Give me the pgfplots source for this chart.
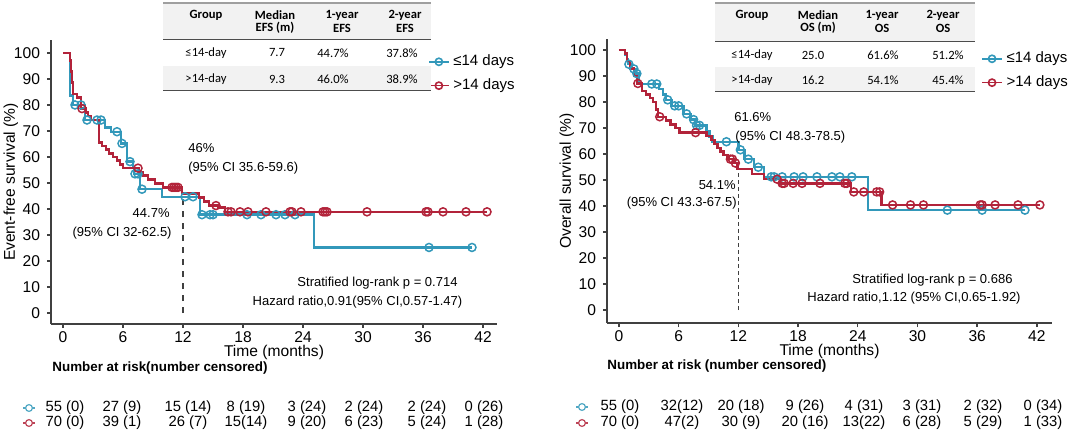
\documentclass[border=0pt]{standalone}
\usepackage{fontspec}
\setmainfont{Liberation Sans}
\newfontfamily\tabfont{Carlito}
\usepackage{pgfplots}
\pgfplotsset{compat=1.18}

\definecolor{kmblue}{HTML}{3298BA}
\definecolor{kmred}{HTML}{B2233A}
\definecolor{axgray}{HTML}{404040}
\definecolor{tabgray}{HTML}{F2F2F2}

\pgfplotsset{
  km/.style={
    scale only axis,
    axis lines*=left,
    axis line style={axgray, line width=0.8pt},
    tick style={axgray, line width=0.7pt},
    tick align=outside,
    major tick length=2pt,
    xtick={0,6,...,42},
    ytick={0,10,...,100},
    tick label style={font=\fontsize{7.8}{9}\selectfont},
    xticklabel style={inner sep=1.5pt},
    every axis x label/.style={at={(axis description cs:0.5,-0.1)}, anchor=center,
      font=\fontsize{7.8}{9}\selectfont},
    every axis y label/.style={at={(axis description cs:-0.09,0.5)}, rotate=90, anchor=center,
      font=\fontsize{7.8}{9}\selectfont},
    /pgf/number format/assume math mode=true,
    clip=false,
    xlabel={Time (months)},
    legend style={draw=none, fill=none, font=\fontsize{7.5}{9}\selectfont,
      inner sep=0pt, row sep=1pt, cells={anchor=west}},
    legend image code/.code={\draw[mark repeat=2,mark phase=2]
      plot coordinates {(0cm,0cm) (0.17cm,0cm) (0.34cm,0cm)};},
  },
  surv/.style={const plot, no marks, line width=1.2pt},
  cens/.style={only marks, mark=o, mark size=2pt, line width=0.75pt},
}

\begin{document}
\begin{tikzpicture}

% ---------------- EFS ----------------
\begin{axis}[km,
    at={(25.5pt,-162pt)}, anchor=south west,
    width=223pt, height=142pt,
    xmin=-1.2, xmax=43.4, ymin=-4.23, ymax=104.97,
    ylabel={Event-free survival (\%)},
    legend style={at={(axis cs:36.5,92)}, anchor=west},
]
\addlegendimage{kmblue, line width=0.8pt, mark=o, mark size=1.8pt}
\addlegendentry{≤14 days}
\addlegendimage{kmred, line width=0.8pt, mark=o, mark size=1.8pt}
\addlegendentry{>14 days}

\draw[axgray, dashed, line width=0.6pt] (axis cs:12,0) -- (axis cs:12,44.7);

\addplot[surv, kmblue, forget plot] coordinates {
  (0,100) (0.7,83.6) (1.0,80.0) (2.2,74.2) (4.2,71.3) (4.8,69.7) (5.8,65.2)
  (6.4,58.2) (7.0,55.8) (7.1,53.5) (7.7,47.6) (9.9,44.7) (13.7,37.8)
  (25.1,25.2) (40.9,25.2)
};
\addplot[cens, kmblue, forget plot] coordinates {
  (1.2,80.0) (1.8,80.0) (2.4,74.2) (3.4,74.2) (3.8,74.2) (5.4,69.7) (5.9,65.2)
  (6.7,58.2) (7.2,53.5) (7.5,53.5) (7.9,47.6) (12.2,44.7) (13.0,44.7)
  (13.9,37.8) (14.7,37.8) (15.0,37.8) (18.4,37.8) (19.8,37.8) (21.3,37.8)
  (22.2,37.8) (23.2,37.8) (36.6,25.2) (40.9,25.2)
};
\addplot[surv, kmred, forget plot] coordinates {
  (0,100) (0.7,97.1) (0.8,92.9) (0.9,88.6) (1.0,84.3) (1.4,82.9) (1.8,78.6)
  (2.3,77.1) (2.5,75.7) (2.8,74.3) (3.6,65.6) (3.9,64.2) (4.3,62.8) (4.6,61.4)
  (5.0,60.0) (5.4,58.6) (5.7,57.1) (6.0,55.7) (7.6,54.2) (8.0,52.8) (8.5,51.3)
  (9.2,49.8) (10.0,48.3) (11.9,46.0) (13.6,44.4) (14.1,42.9) (14.6,41.3)
  (15.5,40.5) (16.2,38.9) (42.4,38.9)
};
\addplot[cens, kmred, forget plot] coordinates {
  (1.9,78.6) (7.5,55.7) (10.9,48.3) (11.1,48.3) (11.3,48.3) (11.5,48.3)
  (15.3,41.3) (16.5,38.9) (16.8,38.9) (17.7,38.9) (18.5,38.9) (20.3,38.9)
  (22.7,38.9) (22.9,38.9) (23.8,38.9) (26.0,38.9) (26.2,38.9) (26.4,38.9)
  (30.4,38.9) (36.3,38.9) (36.5,38.9) (38.0,38.9) (40.3,38.9) (42.4,38.9)
};
\end{axis}

% ---------------- OS ----------------
\begin{axis}[km,
    at={(303.5pt,-161.5pt)}, anchor=south west,
    width=222.5pt, height=142pt,
    xmin=-1.2, xmax=43.52, ymin=-5.0, ymax=104.2,
    ylabel={Overall survival (\%)},
    legend style={at={(axis cs:36.4,92)}, anchor=west},
]
\addlegendimage{kmblue, line width=0.8pt, mark=o, mark size=1.8pt}
\addlegendentry{≤14 days}
\addlegendimage{kmred, line width=0.8pt, mark=o, mark size=1.8pt}
\addlegendentry{>14 days}

\draw[axgray, dashed, line width=0.4pt, dash pattern=on 2pt off 1.5pt] (axis cs:12,0) -- (axis cs:12,54.1);

\addplot[surv, kmblue, forget plot] coordinates {
  (0,100) (0.6,98.2) (0.8,96.4) (0.9,94.5) (1.3,92.7) (1.7,90.9) (2.0,86.9)
  (4.0,85.0) (4.4,82.9) (4.7,80.8) (5.3,78.5) (6.5,75.4) (7.2,73.2) (7.7,71.0)
  (8.8,68.6) (9.1,66.7) (9.4,64.7) (12.0,61.6) (12.6,58.0) (13.6,54.9)
  (14.6,51.2) (25.0,38.4) (40.8,38.4)
};
\addplot[cens, kmblue, forget plot] coordinates {
  (1.0,94.5) (1.5,92.7) (1.8,90.9) (3.3,86.9) (3.8,86.9) (4.9,80.8) (5.6,78.5)
  (6.0,78.5) (6.8,75.4) (7.5,73.2) (7.8,71.0) (8.1,71.0) (10.8,64.7)
  (12.2,61.6) (13.0,58.0) (14.0,54.9) (15.3,51.2) (15.6,51.2) (16.4,51.2)
  (17.6,51.2) (18.5,51.2) (19.9,51.2) (21.4,51.2) (22.2,51.2) (23.4,51.2)
  (33.0,38.4) (36.5,38.4) (40.8,38.4)
};
\addplot[surv, kmred, forget plot] coordinates {
  (0,100) (0.6,98.6) (0.8,95.7) (1.1,92.9) (1.5,90.0) (1.8,87.1) (2.3,84.3)
  (2.7,82.9) (3.1,81.4) (3.4,80.0) (3.7,77.1) (3.9,74.3) (4.7,72.9) (5.2,71.4)
  (5.7,70.0) (6.1,68.2) (8.8,66.8) (9.3,65.3) (9.6,63.8) (9.9,62.4)
  (10.2,60.9) (10.5,59.5) (10.9,58.0) (11.5,56.5) (11.9,54.1) (13.4,52.4)
  (14.6,50.3) (16.2,48.7) (23.3,45.4) (26.4,40.4) (42.3,40.4)
};
\addplot[cens, kmred, forget plot] coordinates {
  (1.9,87.1) (4.1,74.3) (7.7,68.2) (11.2,58.0) (11.4,58.0) (11.7,56.5)
  (15.9,50.3) (16.4,48.7) (16.6,48.7) (17.5,48.7) (18.4,48.7) (20.2,48.7)
  (22.7,48.7) (22.9,48.7) (23.6,45.4) (24.6,45.4) (25.9,45.4) (26.2,45.4)
  (27.5,40.4) (29.3,40.4) (30.6,40.4) (36.3,40.4) (36.5,40.4) (37.8,40.4)
  (40.1,40.4) (42.3,40.4)
};
\end{axis}

% ---------------- tables, notes, risk tables (pixel grid) ----------------
\begin{scope}[x=0.5pt, y=-0.5pt]
  \def\tf{\tabfont\fontsize{6.3}{7.5}\selectfont}
  \def\af{\fontsize{6.5}{8}\selectfont}
  \def\rf{\fontsize{7.4}{9}\selectfont}

  % EFS summary table
  \fill[tabgray] (163,3) rectangle (431,40);
  \fill[tabgray] (163,66) rectangle (431,91);
  \draw[gray!75, line width=1pt] (163,3) -- (431,3);
  \draw[black!70, line width=0.5pt] (163,40) -- (431,40);
  \draw[black!70, line width=0.5pt] (163,91) -- (431,91);
  \begin{scope}[every node/.style={font=\tf\bfseries, inner sep=0pt}]
    \node at (206,15) {Group};
    \node at (275,15) {Median};  \node at (275,28) {EFS (m)};
    \node at (342,15) {1-year};  \node at (342,28) {EFS};
    \node at (405,15) {2-year};  \node at (405,28) {EFS};
  \end{scope}
  \begin{scope}[every node/.style={font=\tf, inner sep=0pt}]
    \node at (206,53) {≤14-day}; \node at (277,53) {7.7};
    \node at (333,53) {44.7\%};  \node at (402,53) {37.8\%};
    \node at (206,79) {>14-day}; \node at (277,79) {9.3};
    \node at (333,79) {46.0\%};  \node at (402,79) {38.9\%};
  \end{scope}

  % OS summary table
  \fill[tabgray] (715,3) rectangle (975,42);
  \fill[tabgray] (715,67) rectangle (975,92);
  \draw[gray!75, line width=1pt] (715,3) -- (975,3);
  \draw[black!70, line width=0.5pt] (715,42) -- (975,42);
  \draw[black!70, line width=0.5pt] (715,92) -- (975,92);
  \begin{scope}[every node/.style={font=\tf\bfseries, inner sep=0pt}]
    \node at (752,15) {Group};
    \node at (818,15) {Median};  \node at (818,28) {OS (m)};
    \node at (882,15) {1-year};  \node at (882,28) {OS};
    \node at (943,15) {2-year};  \node at (943,28) {OS};
  \end{scope}
  \begin{scope}[every node/.style={font=\tf, inner sep=0pt}]
    \node at (752,55) {≤14-day}; \node at (813,55) {25.0};
    \node at (883,55) {61.6\%};  \node at (948,55) {51.2\%};
    \node at (752,80) {>14-day}; \node at (813,80) {16.2};
    \node at (883,80) {54.1\%};  \node at (948,80) {45.4\%};
  \end{scope}

  % annotations
  \begin{scope}[every node/.style={font=\af, inner sep=0pt}]
    \node[anchor=west] at (188,148) {46\%};
    \node[anchor=west] at (188,168) {(95\% CI 35.6-59.6)};
    \node[anchor=east] at (170,213) {44.7\%};
    \node[anchor=east] at (172,233) {(95\% CI 32-62.5)};
    \node at (377.5,283) {Stratified log-rank p = 0.714};
    \node at (357.5,302) {Hazard ratio,0.91(95\% CI,0.57-1.47)};

    \node[anchor=west] at (734,117) {61.6\%};
    \node[anchor=west] at (735,137) {(95\% CI 48.3-78.5)};
    \node[anchor=east] at (736,185) {54.1\%};
    \node[anchor=east] at (737,203) {(95\% CI 43.3-67.5)};
    \node at (932.5,280) {Stratified log-rank p = 0.686};
    \node at (914,298) {Hazard ratio,1.12 (95\% CI,0.65-1.92)};
  \end{scope}

  % risk tables
  \node[anchor=west, inner sep=0pt, font=\fontsize{6.7}{8}\selectfont\bfseries] at (52,368)
    {Number at risk(number censored)};
  \node[anchor=west, inner sep=0pt, font=\fontsize{6.7}{8}\selectfont\bfseries] at (607,366)
    {Number at risk (number censored)};

  \foreach \cx/\cy/\cc in {29/408/kmblue, 29/423/kmred, 582/407/kmblue, 582/423/kmred}{
    \draw[\cc!85, line width=0.8pt] (\cx-6,\cy) -- (\cx+6,\cy);
    \draw[\cc!85, line width=0.6pt, fill=white] (\cx,\cy) circle (1.7pt);
  }

  \begin{scope}[every node/.style={font=\rf, inner sep=0pt}]
    \foreach \x/\t in {65/55 (0), 122/27 (9), 188/15 (14), 246/8 (19),
                       307/3 (24), 364/2 (24), 427/2 (24), 484/0 (26)}
      \node at (\x,408) {\t};
    \foreach \x/\t in {65/70 (0), 122/39 (1), 188/26 (7), 246/15(14),
                       307/9 (20), 364/6 (23), 427/5 (24), 484/1 (28)}
      \node at (\x,423) {\t};
    \foreach \x/\t in {620/55 (0), 682/32(12), 741/20 (18), 805/9 (26),
                       864/4 (31), 922/3 (31), 983/2 (32), 1043/0 (34)}
      \node at (\x,407) {\t};
    \foreach \x/\t in {620/70 (0), 682/47(2), 741/30 (9), 805/20 (16),
                       864/13(22), 922/6 (28), 983/5 (29), 1043/1 (33)}
      \node at (\x,423) {\t};
  \end{scope}
\end{scope}

\pgfresetboundingbox
\path[use as bounding box] (0,0) rectangle (540pt,-222pt);
\end{tikzpicture}
\end{document}
